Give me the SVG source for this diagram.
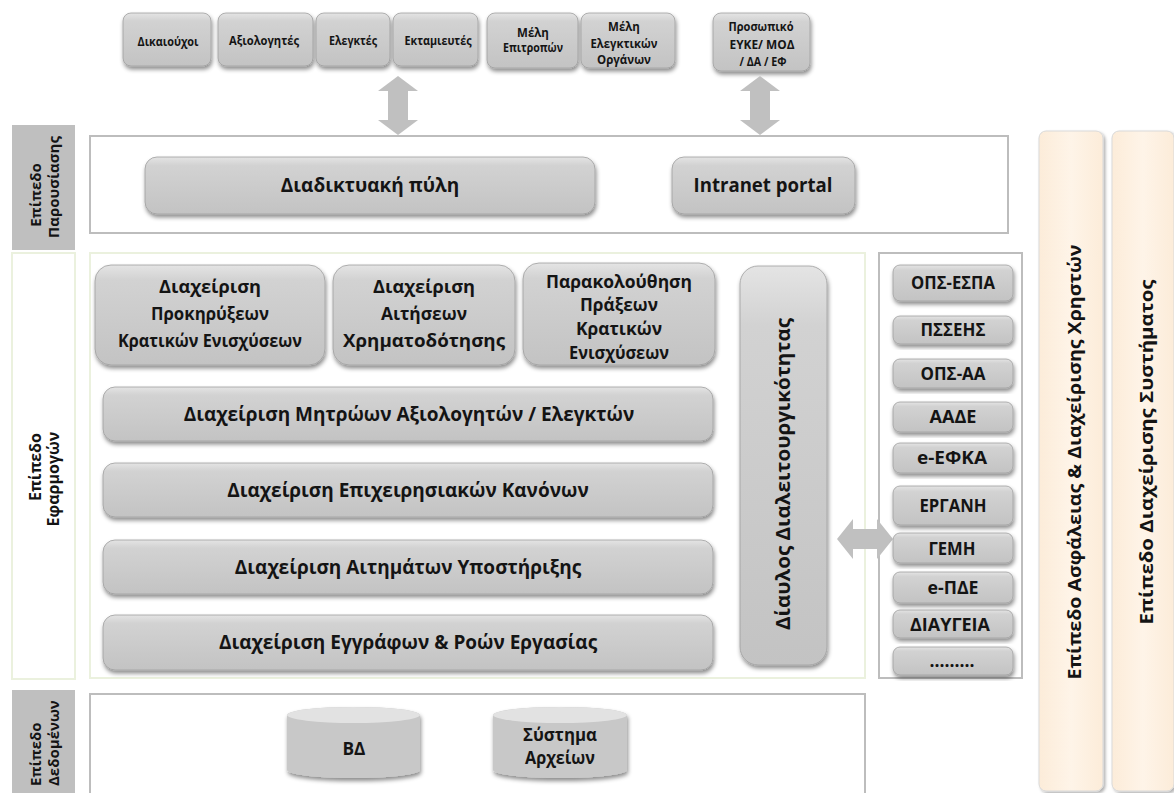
<svg xmlns="http://www.w3.org/2000/svg" width="1174" height="793" viewBox="0 0 1174 793">
<defs>
<linearGradient id="g" x1="0" y1="0" x2="0" y2="1">
<stop offset="0" stop-color="#e4e4e4"/>
<stop offset="0.15" stop-color="#d2d2d2"/>
<stop offset="1" stop-color="#c3c3c3"/>
</linearGradient>
<linearGradient id="pe" x1="0" y1="0" x2="1" y2="0">
<stop offset="0" stop-color="#fcecd9"/>
<stop offset="0.5" stop-color="#fef4e8"/>
<stop offset="1" stop-color="#fcecd9"/>
</linearGradient>
<filter id="sh" x="-10%" y="-10%" width="120%" height="130%">
<feDropShadow dx="1" dy="3" stdDeviation="2" flood-color="#000" flood-opacity="0.45"/>
</filter>
<filter id="sh2" x="-10%" y="-10%" width="130%" height="130%">
<feDropShadow dx="2" dy="2" stdDeviation="1.5" flood-color="#000" flood-opacity="0.3"/>
</filter>
</defs>
<style>
text{font-family:"Open Sans","Noto Sans","Liberation Sans",sans-serif;font-weight:700;fill:#141414;text-anchor:middle}
.box{fill:url(#g);stroke:#9e9e9e;stroke-width:0.8;filter:url(#sh)}
.lbl{fill:#bfbfbf}
.lblw{fill:#fff;stroke:#ebf1de;stroke-width:2}
.frame{fill:#fff;stroke:#bdbdbd;stroke-width:2}
.framew{fill:#fff;stroke:#ebf1de;stroke-width:2}
.arr{fill:#c0c0c0}
.col{fill:url(#pe);stroke:#d9d9d9;stroke-width:1;filter:url(#sh2)}
.s11{font-size:11.5px}
.s15{font-size:15px}
.s16{font-size:16px}
.s17{font-size:17px}
.s18{font-size:18px}
.s19{font-size:19px}
.s20{font-size:20px}
.cyl{fill:#c8c8c8;filter:url(#sh)}
.cyltop{fill:#e2e2e2}
.st{text-anchor:start}
</style>

<!-- layer labels -->
<g id="label-presentation">
<rect class="lbl" x="12" y="125" width="63" height="125"/>
<text class="s15" transform="translate(41,195) rotate(-90)">Επίπεδο</text>
<text class="s15" transform="translate(59,187) rotate(-90)">Παρουσίασης</text>
</g>
<g id="label-applications">
<rect class="lblw" x="12" y="253" width="63" height="426"/>
<text class="s16" transform="translate(41,467) rotate(-90)">Επίπεδο</text>
<text class="s16" transform="translate(59,479) rotate(-90)">Εφαρμογών</text>
</g>
<g id="label-data">
<rect class="lbl" x="12" y="690" width="63" height="103"/>
<text class="s15 st" transform="translate(41,786) rotate(-90)">Επίπεδο</text>
<text class="s15 st" transform="translate(59,786) rotate(-90)">Δεδομένων</text>
</g>

<!-- frames -->
<g id="frame-presentation"><rect class="frame" x="90" y="136" width="918" height="97"/></g>
<g id="frame-applications"><rect class="framew" x="90" y="253" width="775" height="425"/></g>
<g id="frame-external"><rect class="frame" x="879" y="253" width="143" height="425"/></g>
<g id="frame-data"><rect class="frame" x="90" y="694" width="775" height="110"/></g>

<!-- users -->
<g id="u1"><rect class="box" x="123" y="13" width="88" height="53" rx="8"/><text class="s11" x="168" y="46" textLength="61" lengthAdjust="spacingAndGlyphs">Δικαιούχοι</text></g>
<g id="u2"><rect class="box" x="218" y="13" width="95" height="53" rx="8"/><text class="s11" x="264" y="45" textLength="70" lengthAdjust="spacingAndGlyphs">Αξιολογητές</text></g>
<g id="u3"><rect class="box" x="316" y="13" width="74" height="53" rx="8"/><text class="s11" x="353" y="45" textLength="48" lengthAdjust="spacingAndGlyphs">Ελεγκτές</text></g>
<g id="u4"><rect class="box" x="393" y="13" width="85" height="53" rx="8"/><text class="s11" x="438" y="45" textLength="67" lengthAdjust="spacingAndGlyphs">Εκταμιευτές</text></g>
<g id="u5"><rect class="box" x="487" y="13" width="91" height="55" rx="8"/><text class="s11" x="533" y="37">Μέλη</text><text class="s11" x="533" y="52" textLength="60" lengthAdjust="spacingAndGlyphs">Επιτροπών</text></g>
<g id="u6"><rect class="box" x="581" y="13" width="94" height="55" rx="8"/><text class="s11" x="624" y="31">Μέλη</text><text class="s11" x="624" y="48" textLength="67" lengthAdjust="spacingAndGlyphs">Ελεγκτικών</text><text class="s11" x="624" y="64">Οργάνων</text></g>
<g id="u7"><rect class="box" x="713" y="13" width="97" height="58" rx="8"/><text class="s11" x="761" y="31" textLength="65" lengthAdjust="spacingAndGlyphs">Προσωπικό</text><text class="s11" x="762" y="49" textLength="65" lengthAdjust="spacingAndGlyphs">ΕΥΚΕ/ ΜΟΔ</text><text class="s11" x="763" y="66" textLength="47" lengthAdjust="spacingAndGlyphs">/ ΔΑ / ΕΦ</text></g>

<!-- connectors -->
<g id="connectors">
<path class="arr" d="M398,76 L418,91 L408,91 L408,120 L418,120 L398,135 L378,120 L388,120 L388,91 L378,91 Z"/>
<path class="arr" d="M760,76 L780,91 L770,91 L770,120 L780,120 L760,135 L740,120 L750,120 L750,91 L740,91 Z"/>
<path class="arr" d="M837,539 L853,519 L853,529 L877,529 L877,519 L893,539 L877,559 L877,549 L853,549 L853,559 Z"/>
</g>

<!-- presentation -->
<g id="portal"><rect class="box" x="145" y="157" width="450" height="57" rx="12"/><text class="s19" x="370" y="192">Διαδικτυακή πύλη</text></g>
<g id="intranet"><rect class="box" x="672" y="157" width="183" height="57" rx="12"/><text class="s19" x="763" y="192" textLength="139" lengthAdjust="spacingAndGlyphs">Intranet portal</text></g>

<!-- applications -->
<g id="a1"><rect class="box" x="95" y="265" width="230" height="100" rx="16"/><text class="s18" x="210" y="293" textLength="102" lengthAdjust="spacingAndGlyphs">Διαχείριση</text><text class="s18" x="210" y="320" textLength="118" lengthAdjust="spacingAndGlyphs">Προκηρύξεων</text><text class="s18" x="210" y="347" textLength="184" lengthAdjust="spacingAndGlyphs">Κρατικών Ενισχύσεων</text></g>
<g id="a2"><rect class="box" x="333" y="265" width="182" height="100" rx="16"/><text class="s18" x="424" y="293" textLength="102" lengthAdjust="spacingAndGlyphs">Διαχείριση</text><text class="s18" x="424" y="320" textLength="86" lengthAdjust="spacingAndGlyphs">Αιτήσεων</text><text class="s18" x="424" y="347" textLength="162" lengthAdjust="spacingAndGlyphs">Χρηματοδότησης</text></g>
<g id="a3"><rect class="box" x="523" y="263" width="192" height="102" rx="16"/><text class="s18" x="619" y="288" textLength="146" lengthAdjust="spacingAndGlyphs">Παρακολούθηση</text><text class="s18" x="619" y="311" textLength="78" lengthAdjust="spacingAndGlyphs">Πράξεων</text><text class="s18" x="619" y="335" textLength="86" lengthAdjust="spacingAndGlyphs">Κρατικών</text><text class="s18" x="619" y="359" textLength="100" lengthAdjust="spacingAndGlyphs">Ενισχύσεων</text></g>
<g id="a4"><rect class="box" x="103" y="387" width="610" height="54" rx="12"/><text class="s19" x="409" y="421">Διαχείριση Μητρώων Αξιολογητών / Ελεγκτών</text></g>
<g id="a5"><rect class="box" x="103" y="463" width="610" height="54" rx="12"/><text class="s19" x="408" y="497">Διαχείριση Επιχειρησιακών Κανόνων</text></g>
<g id="a6"><rect class="box" x="103" y="540" width="610" height="54" rx="12"/><text class="s19" x="408" y="574">Διαχείριση Αιτημάτων Υποστήριξης</text></g>
<g id="a7"><rect class="box" x="103" y="615" width="610" height="55" rx="12"/><text class="s19" x="408" y="649">Διαχείριση Εγγράφων &amp; Ροών Εργασίας</text></g>
<g id="bus"><rect class="box" x="740" y="266" width="87" height="399" rx="18"/><text class="s20" transform="translate(790,474) rotate(-90)" textLength="312" lengthAdjust="spacingAndGlyphs">Δίαυλος Διαλειτουργικότητας</text></g>

<!-- external systems -->
<g id="e1"><rect class="box" x="893" y="265" width="120" height="36" rx="7"/><text class="s17" x="953" y="289" textLength="84" lengthAdjust="spacingAndGlyphs">ΟΠΣ-ΕΣΠΑ</text></g>
<g id="e2"><rect class="box" x="893" y="316" width="120" height="28" rx="7"/><text class="s17" x="953" y="336" textLength="65" lengthAdjust="spacingAndGlyphs">ΠΣΣΕΗΣ</text></g>
<g id="e3"><rect class="box" x="893" y="359" width="120" height="29" rx="7"/><text class="s17" x="953" y="380" textLength="65" lengthAdjust="spacingAndGlyphs">ΟΠΣ-ΑΑ</text></g>
<g id="e4"><rect class="box" x="893" y="402" width="120" height="30" rx="7"/><text class="s17" x="953" y="423" textLength="47" lengthAdjust="spacingAndGlyphs">ΑΑΔΕ</text></g>
<g id="e5"><rect class="box" x="893" y="443" width="120" height="30" rx="7"/><text class="s17" x="952" y="464" textLength="70" lengthAdjust="spacingAndGlyphs">e-ΕΦΚΑ</text></g>
<g id="e6"><rect class="box" x="893" y="486" width="120" height="39" rx="7"/><text class="s17" x="953" y="512" textLength="67" lengthAdjust="spacingAndGlyphs">ΕΡΓΑΝΗ</text></g>
<g id="e7"><rect class="box" x="893" y="533" width="120" height="30" rx="7"/><text class="s17" x="952" y="555" textLength="47" lengthAdjust="spacingAndGlyphs">ΓΕΜΗ</text></g>
<g id="e8"><rect class="box" x="893" y="572" width="120" height="31" rx="7"/><text class="s17" x="953" y="594" textLength="51" lengthAdjust="spacingAndGlyphs">e-ΠΔΕ</text></g>
<g id="e9"><rect class="box" x="893" y="610" width="120" height="28" rx="7"/><text class="s17" x="950" y="631" textLength="80" lengthAdjust="spacingAndGlyphs">ΔΙΑΥΓΕΙΑ</text></g>
<g id="e10"><rect class="box" x="893" y="647" width="120" height="28" rx="7"/><text class="s17" x="952" y="667" textLength="45" lengthAdjust="spacingAndGlyphs">………</text></g>

<!-- cross-cutting columns -->
<g id="security"><rect class="col" x="1039" y="131" width="64" height="660" rx="7"/><text class="s18" transform="translate(1081,462) rotate(-90)" textLength="435" lengthAdjust="spacingAndGlyphs">Επίπεδο Ασφάλειας &amp;  Διαχείρισης Χρηστών</text></g>
<g id="sysmgmt"><rect class="col" x="1112" y="131" width="62" height="660" rx="7"/><text class="s18" transform="translate(1153,452) rotate(-90)" textLength="345" lengthAdjust="spacingAndGlyphs">Επίπεδο Διαχείρισης Συστήματος</text></g>

<!-- data -->
<g id="db">
<path class="cyl" d="M287,715 A66.5,8 0 0,1 420,715 L420,770 A66.5,8 0 0,1 287,770 Z"/>
<ellipse class="cyltop" cx="353.5" cy="715" rx="66.5" ry="8"/>
<text class="s17" x="354" y="755" textLength="23" lengthAdjust="spacingAndGlyphs">ΒΔ</text>
</g>
<g id="fs">
<path class="cyl" d="M493,715 A67,8 0 0,1 627,715 L627,770 A67,8 0 0,1 493,770 Z"/>
<ellipse class="cyltop" cx="560" cy="715" rx="67" ry="8"/>
<text class="s17" x="560" y="741" textLength="74" lengthAdjust="spacingAndGlyphs">Σύστημα</text>
<text class="s17" x="560" y="764" textLength="70" lengthAdjust="spacingAndGlyphs">Αρχείων</text>
</g>
</svg>
